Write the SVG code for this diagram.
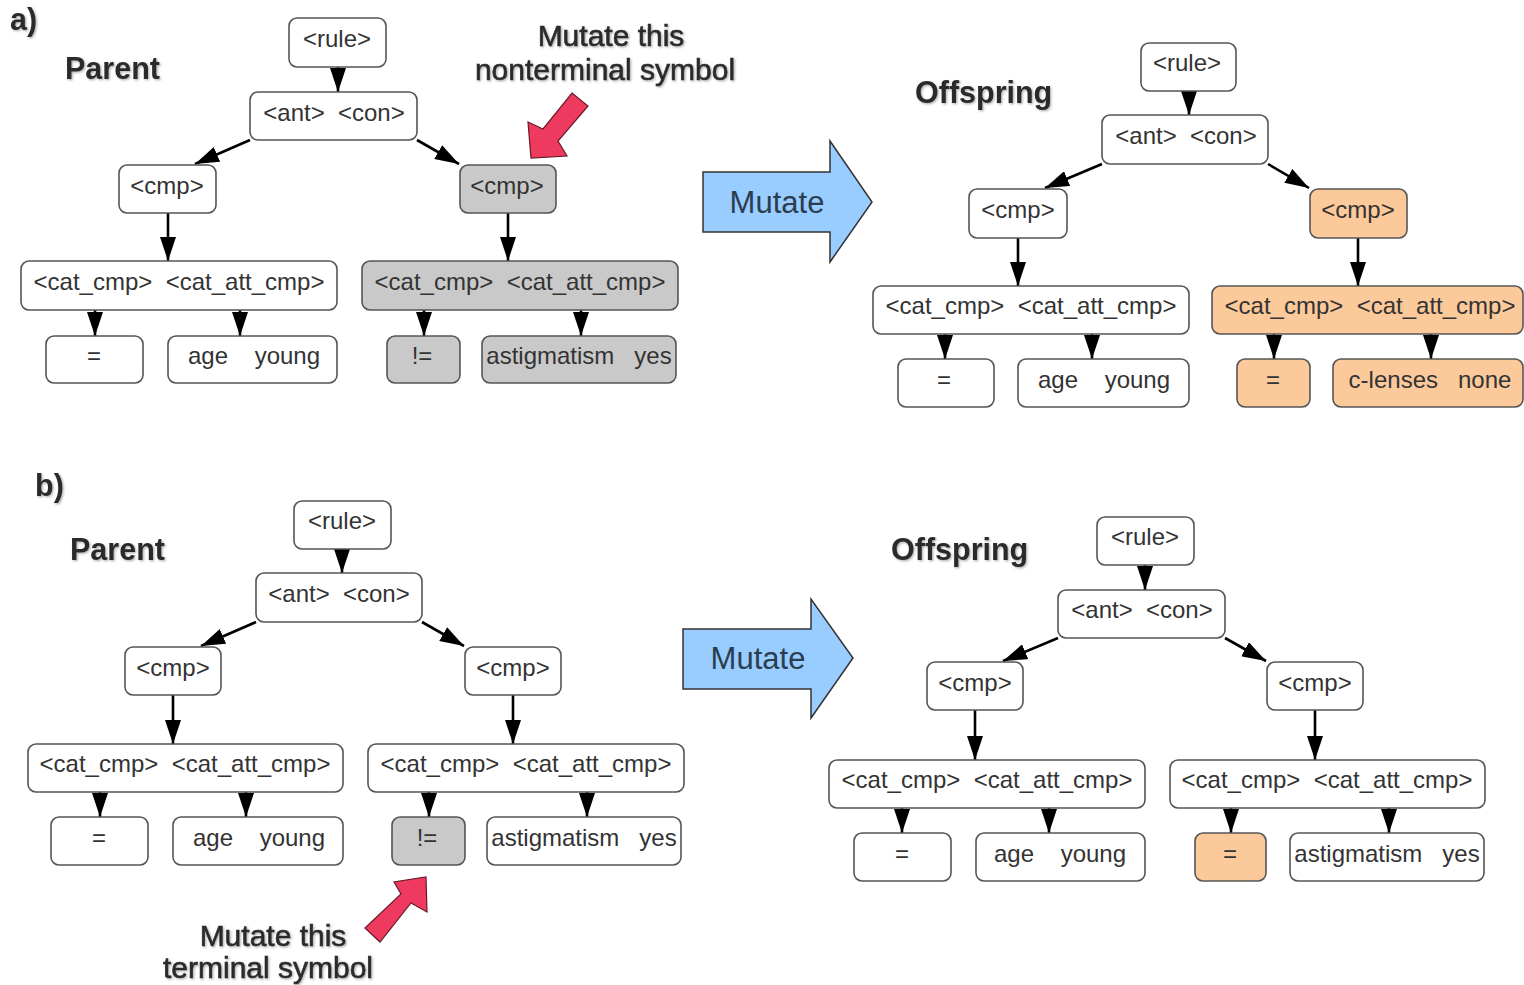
<svg xmlns="http://www.w3.org/2000/svg" width="1524" height="985" viewBox="0 0 1524 985">
  <defs>
    <marker id="ah" viewBox="0 0 24 16" refX="24" refY="8" markerWidth="24" markerHeight="16" orient="auto" markerUnits="userSpaceOnUse">
      <path d="M0,0 L24,8 L0,16 z" fill="#000"/>
    </marker>
    <filter id="shadow" x="-10%" y="-20%" width="120%" height="150%">
      <feDropShadow dx="1.2" dy="1.2" stdDeviation="1" flood-color="#777" flood-opacity="0.6"/>
    </filter>
  </defs>
  <style>
    .box { fill: #fff; stroke: #555; stroke-width: 1.6; }
    .gray { fill: #c9c9c9; }
    .orange { fill: #fcc99b; }
    .lbl { font-family: "Liberation Sans", Arial, sans-serif; font-size: 24px; fill: #333; text-anchor: middle; white-space: pre; }
    .head { font-family: "Liberation Sans", Arial, sans-serif; font-size: 30.5px; font-weight: bold; fill: #2a2a2a; filter: url(#shadow); }
    .note { font-family: "Liberation Sans", Arial, sans-serif; font-size: 30px; fill: #2a2a2a; stroke: #2a2a2a; stroke-width: 0.6; text-anchor: middle; filter: url(#shadow); }
    .big { fill: #99ccff; stroke: #333; stroke-width: 1.5; }
    .big-t { font-family: "Liberation Sans", Arial, sans-serif; font-size: 31px; fill: #2b3d50; text-anchor: middle; }
    .red { fill: #ee3a5e; stroke: #6a1a2a; stroke-width: 1.2; }
    .edge { stroke: #000; stroke-width: 2.6; fill: none; marker-end: url(#ah); }
  </style>
  <rect width="1524" height="985" fill="#fff"/>

  <!-- section headings -->
  <text class="head" x="10" y="30" font-size="27">a)</text>
  <text class="head" x="65" y="79">Parent</text>
  <text class="head" x="915" y="103">Offspring</text>
  <text class="head" x="35" y="496" font-size="27">b)</text>
  <text class="head" x="70" y="560">Parent</text>
  <text class="head" x="891" y="560">Offspring</text>

  <!-- callouts -->
  <g id="callout-a">
    <text class="note" x="611" y="46">Mutate this</text>
    <text class="note" x="605" y="80">nonterminal symbol</text>
    <polygon class="red" points="572,93 588,106 558,141 567,156 531,158 528,122 543,129"/>
  </g>
  <g id="callout-b">
    <text class="note" x="273" y="946">Mutate this</text>
    <text class="note" x="268" y="978">terminal symbol</text>
    <polygon class="red" points="365,928 380,942 411,903 427,912 426,877 394,882 401,894"/>
  </g>

  <!-- big mutate arrows -->
  <g id="mutate-a">
    <polygon class="big" points="703,172 830,172 830,141 872,202 830,262 830,232 703,232"/>
    <text class="big-t" x="777" y="213">Mutate</text>
  </g>
  <g id="mutate-b">
    <polygon class="big" points="683,629 811,629 811,599 853,658 811,718 811,689 683,689"/>
    <text class="big-t" x="758" y="669">Mutate</text>
  </g>

  <!-- connectors -->
  <g id="connectors">
    <!-- a) parent -->
    <line class="edge" x1="338" y1="67" x2="338" y2="92"/>
    <line class="edge" x1="250" y1="140" x2="195" y2="164"/>
    <line class="edge" x1="417" y1="140" x2="459" y2="164"/>
    <line class="edge" x1="168" y1="213" x2="168" y2="261"/>
    <line class="edge" x1="508" y1="213" x2="508" y2="261"/>
    <line class="edge" x1="95" y1="310" x2="95" y2="336"/>
    <line class="edge" x1="240" y1="310" x2="240" y2="336"/>
    <line class="edge" x1="424" y1="310" x2="424" y2="336"/>
    <line class="edge" x1="581" y1="310" x2="581" y2="336"/>
    <!-- a) offspring -->
    <line class="edge" x1="1189" y1="91" x2="1189" y2="115"/>
    <line class="edge" x1="1102" y1="164" x2="1045" y2="188"/>
    <line class="edge" x1="1268" y1="164" x2="1309" y2="188"/>
    <line class="edge" x1="1018" y1="238" x2="1018" y2="286"/>
    <line class="edge" x1="1358" y1="238" x2="1358" y2="286"/>
    <line class="edge" x1="945" y1="334" x2="945" y2="359"/>
    <line class="edge" x1="1092" y1="334" x2="1092" y2="359"/>
    <line class="edge" x1="1274" y1="334" x2="1274" y2="359"/>
    <line class="edge" x1="1431" y1="334" x2="1431" y2="359"/>
    <!-- b) parent -->
    <line class="edge" x1="342" y1="549" x2="342" y2="573"/>
    <line class="edge" x1="256" y1="622" x2="201" y2="646"/>
    <line class="edge" x1="422" y1="622" x2="464" y2="646"/>
    <line class="edge" x1="173" y1="695" x2="173" y2="744"/>
    <line class="edge" x1="513" y1="695" x2="513" y2="744"/>
    <line class="edge" x1="100" y1="792" x2="100" y2="817"/>
    <line class="edge" x1="246" y1="792" x2="246" y2="817"/>
    <line class="edge" x1="429" y1="792" x2="429" y2="817"/>
    <line class="edge" x1="587" y1="792" x2="587" y2="817"/>
    <!-- b) offspring -->
    <line class="edge" x1="1145" y1="565" x2="1145" y2="590"/>
    <line class="edge" x1="1058" y1="638" x2="1003" y2="661"/>
    <line class="edge" x1="1225" y1="638" x2="1266" y2="661"/>
    <line class="edge" x1="975" y1="710" x2="975" y2="760"/>
    <line class="edge" x1="1315" y1="710" x2="1315" y2="760"/>
    <line class="edge" x1="902" y1="808" x2="902" y2="833"/>
    <line class="edge" x1="1049" y1="808" x2="1049" y2="833"/>
    <line class="edge" x1="1231" y1="808" x2="1231" y2="833"/>
    <line class="edge" x1="1389" y1="808" x2="1389" y2="833"/>
  </g>

  <!-- a) parent tree -->
  <g id="a-p-rule"><rect class="box" x="289" y="18" width="97" height="49" rx="8"/><text class="lbl" x="337" y="47">&lt;rule&gt;</text></g>
  <g id="a-p-antcon"><rect class="box" x="250" y="92" width="167" height="48" rx="8"/><text class="lbl" x="334" y="121">&lt;ant&gt;  &lt;con&gt;</text></g>
  <g id="a-p-cmp1"><rect class="box" x="119" y="165" width="97" height="48" rx="8"/><text class="lbl" x="167" y="194">&lt;cmp&gt;</text></g>
  <g id="a-p-cmp2"><rect class="box gray" x="460" y="165" width="96" height="48" rx="8"/><text class="lbl" x="507" y="194">&lt;cmp&gt;</text></g>
  <g id="a-p-cat1"><rect class="box" x="21" y="261" width="316" height="49" rx="8"/><text class="lbl" x="179" y="290">&lt;cat_cmp&gt;  &lt;cat_att_cmp&gt;</text></g>
  <g id="a-p-cat2"><rect class="box gray" x="362" y="261" width="316" height="49" rx="8"/><text class="lbl" x="520" y="290">&lt;cat_cmp&gt;  &lt;cat_att_cmp&gt;</text></g>
  <g id="a-p-op1"><rect class="box" x="46" y="336" width="97" height="47" rx="8"/><text class="lbl" x="94" y="364">=</text></g>
  <g id="a-p-att1"><rect class="box" x="168" y="336" width="169" height="47" rx="8"/><text class="lbl" x="254" y="364">age    young</text></g>
  <g id="a-p-op2"><rect class="box gray" x="387" y="336" width="73" height="47" rx="8"/><text class="lbl" x="422" y="364">!=</text></g>
  <g id="a-p-att2"><rect class="box gray" x="482" y="336" width="194" height="47" rx="8"/><text class="lbl" x="579" y="364">astigmatism   yes</text></g>

  <!-- a) offspring tree -->
  <g id="a-o-rule"><rect class="box" x="1141" y="43" width="95" height="48" rx="8"/><text class="lbl" x="1187" y="71">&lt;rule&gt;</text></g>
  <g id="a-o-antcon"><rect class="box" x="1102" y="115" width="166" height="49" rx="8"/><text class="lbl" x="1186" y="144">&lt;ant&gt;  &lt;con&gt;</text></g>
  <g id="a-o-cmp1"><rect class="box" x="969" y="189" width="98" height="49" rx="8"/><text class="lbl" x="1018" y="218">&lt;cmp&gt;</text></g>
  <g id="a-o-cmp2"><rect class="box orange" x="1310" y="189" width="97" height="49" rx="8"/><text class="lbl" x="1358" y="218">&lt;cmp&gt;</text></g>
  <g id="a-o-cat1"><rect class="box" x="873" y="286" width="316" height="48" rx="8"/><text class="lbl" x="1031" y="314">&lt;cat_cmp&gt;  &lt;cat_att_cmp&gt;</text></g>
  <g id="a-o-cat2"><rect class="box orange" x="1212" y="286" width="311" height="48" rx="8"/><text class="lbl" x="1370" y="314">&lt;cat_cmp&gt;  &lt;cat_att_cmp&gt;</text></g>
  <g id="a-o-op1"><rect class="box" x="898" y="359" width="96" height="48" rx="8"/><text class="lbl" x="944" y="388">=</text></g>
  <g id="a-o-att1"><rect class="box" x="1018" y="359" width="171" height="48" rx="8"/><text class="lbl" x="1104" y="388">age    young</text></g>
  <g id="a-o-op2"><rect class="box orange" x="1237" y="359" width="73" height="48" rx="8"/><text class="lbl" x="1273" y="388">=</text></g>
  <g id="a-o-att2"><rect class="box orange" x="1333" y="359" width="190" height="48" rx="8"/><text class="lbl" x="1430" y="388">c-lenses   none</text></g>

  <!-- b) parent tree -->
  <g id="b-p-rule"><rect class="box" x="294" y="501" width="97" height="48" rx="8"/><text class="lbl" x="342" y="529">&lt;rule&gt;</text></g>
  <g id="b-p-antcon"><rect class="box" x="256" y="573" width="166" height="49" rx="8"/><text class="lbl" x="339" y="602">&lt;ant&gt;  &lt;con&gt;</text></g>
  <g id="b-p-cmp1"><rect class="box" x="125" y="647" width="96" height="48" rx="8"/><text class="lbl" x="173" y="676">&lt;cmp&gt;</text></g>
  <g id="b-p-cmp2"><rect class="box" x="465" y="647" width="96" height="48" rx="8"/><text class="lbl" x="513" y="676">&lt;cmp&gt;</text></g>
  <g id="b-p-cat1"><rect class="box" x="28" y="744" width="315" height="48" rx="8"/><text class="lbl" x="185" y="772">&lt;cat_cmp&gt;  &lt;cat_att_cmp&gt;</text></g>
  <g id="b-p-cat2"><rect class="box" x="368" y="744" width="316" height="48" rx="8"/><text class="lbl" x="526" y="772">&lt;cat_cmp&gt;  &lt;cat_att_cmp&gt;</text></g>
  <g id="b-p-op1"><rect class="box" x="51" y="817" width="97" height="48" rx="8"/><text class="lbl" x="99" y="846">=</text></g>
  <g id="b-p-att1"><rect class="box" x="173" y="817" width="170" height="48" rx="8"/><text class="lbl" x="259" y="846">age    young</text></g>
  <g id="b-p-op2"><rect class="box gray" x="392" y="817" width="73" height="48" rx="8"/><text class="lbl" x="427" y="846">!=</text></g>
  <g id="b-p-att2"><rect class="box" x="487" y="817" width="194" height="48" rx="8"/><text class="lbl" x="584" y="846">astigmatism   yes</text></g>

  <!-- b) offspring tree -->
  <g id="b-o-rule"><rect class="box" x="1097" y="517" width="97" height="48" rx="8"/><text class="lbl" x="1145" y="545">&lt;rule&gt;</text></g>
  <g id="b-o-antcon"><rect class="box" x="1058" y="590" width="167" height="48" rx="8"/><text class="lbl" x="1142" y="618">&lt;ant&gt;  &lt;con&gt;</text></g>
  <g id="b-o-cmp1"><rect class="box" x="927" y="662" width="96" height="48" rx="8"/><text class="lbl" x="975" y="691">&lt;cmp&gt;</text></g>
  <g id="b-o-cmp2"><rect class="box" x="1267" y="662" width="96" height="48" rx="8"/><text class="lbl" x="1315" y="691">&lt;cmp&gt;</text></g>
  <g id="b-o-cat1"><rect class="box" x="829" y="760" width="316" height="48" rx="8"/><text class="lbl" x="987" y="788">&lt;cat_cmp&gt;  &lt;cat_att_cmp&gt;</text></g>
  <g id="b-o-cat2"><rect class="box" x="1170" y="760" width="315" height="48" rx="8"/><text class="lbl" x="1327" y="788">&lt;cat_cmp&gt;  &lt;cat_att_cmp&gt;</text></g>
  <g id="b-o-op1"><rect class="box" x="854" y="833" width="97" height="48" rx="8"/><text class="lbl" x="902" y="862">=</text></g>
  <g id="b-o-att1"><rect class="box" x="976" y="833" width="169" height="48" rx="8"/><text class="lbl" x="1060" y="862">age    young</text></g>
  <g id="b-o-op2"><rect class="box orange" x="1195" y="833" width="71" height="48" rx="8"/><text class="lbl" x="1230" y="862">=</text></g>
  <g id="b-o-att2"><rect class="box" x="1290" y="833" width="194" height="48" rx="8"/><text class="lbl" x="1387" y="862">astigmatism   yes</text></g>
</svg>
